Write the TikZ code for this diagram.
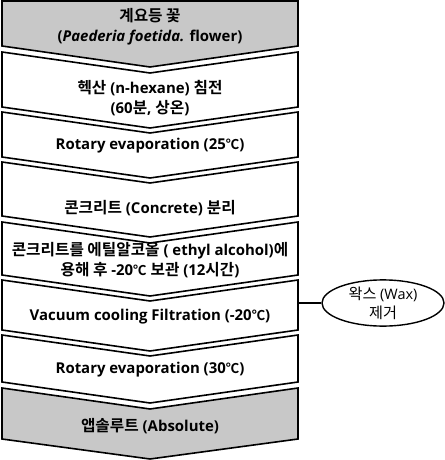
\documentclass[tikz,border=0pt]{standalone}
\usepackage{fontspec}
\setmainfont{Open Sans}
\newfontfamily\kr{Noto Sans CJK KR}[Scale=1.05,BoldFont={Noto Sans CJK KR Bold}]
\newfontfamily\degfont{Noto Sans CJK KR}[Scale=0.9,BoldFont={Noto Sans CJK KR Bold}]
\usetikzlibrary{shapes.geometric,positioning}
\definecolor{stagegray}{RGB}{200,200,200}
\newcommand{\degc}{{\degfont ℃}}

\begin{document}
\begin{tikzpicture}[x=1bp,y=-1bp,
    stage/.style={draw=black,line width=1.6bp,line join=miter,fill=white},
    endstage/.style={stage,fill=stagegray},
    txt/.style={font=\bfseries\fontsize{15}{20}\selectfont,align=center,inner sep=0pt},
    note/.style={ellipse,draw=black,line width=1.4bp,minimum width=122bp,minimum height=46bp,
        align=center,inner sep=0pt,font=\fontsize{14.5}{19}\selectfont},
    link/.style={draw=black,line width=1.4bp}]
                \useasboundingbox (0,0) rectangle (445,460);

                % Stages
                \draw[endstage] (2,1) -- (298,1) -- (298,46) -- (150,67) -- (2,46) -- cycle;
                \draw[stage] (2,52) -- (150,73) -- (298,52) -- (298,107) -- (150,128) -- (2,107) -- cycle;
                \draw[stage] (2,112) -- (150,133) -- (298,112) -- (298,157) -- (150,178) -- (2,157) -- cycle;
                \draw[stage] (2,162) -- (150,183) -- (298,162) -- (298,216) -- (150,237) -- (2,216) -- cycle;
                \draw[stage] (2,222) -- (150,243) -- (298,222) -- (298,275) -- (150,296) -- (2,275) -- cycle;
                \draw[stage] (2,280) -- (150,301) -- (298,280) -- (298,330) -- (150,351) -- (2,330) -- cycle;
                \draw[stage] (2,335) -- (150,356) -- (298,335) -- (298,382) -- (150,403) -- (2,382) -- cycle;
                \draw[endstage] (2,388) -- (150,409) -- (298,388) -- (298,439) -- (150,459) -- (2,439) -- cycle;

                % Stage labels
                \node[txt] (flower) at (150,27) {{\kr 계요등 꽃}\\(\textit{Paederia foetida.} flower)};
                \node[txt] (hexane) at (150,98) {{\kr 헥산} (n-hexane) {\kr 침전}\\(60{\kr 분}, {\kr 상온})};
                \node[txt] (rotaryA) at (150,146) {Rotary evaporation (25\degc)};
                \node[txt] (concrete) at (150,208) {{\kr 콘크리트} (Concrete) {\kr 분리}};
                \node[txt] (ethanol) at (150,260) {{\kr 콘크리트를 에틸알코올} ( ethyl alcohol){\kr 에}\\{\kr 용해 후} -20\degc{} {\kr 보관} (12{\kr 시간})};
                \node[txt] (vacuum) at (150,317) {Vacuum cooling Filtration (-20\degc)};
                \node[txt] (rotaryB) at (150,370) {Rotary evaporation (30\degc)};
                \node[txt] (absolute) at (150,426) {{\kr 앱솔루트} (Absolute)};

                % Side note
                \coordinate (vacR) at (298,303);
                \node[note] (wax) at (383,303) {{\kr 왁스} (Wax)\\{\kr 제거}};
                \draw[link] (vacR) -- (wax);
\end{tikzpicture}
\end{document}
